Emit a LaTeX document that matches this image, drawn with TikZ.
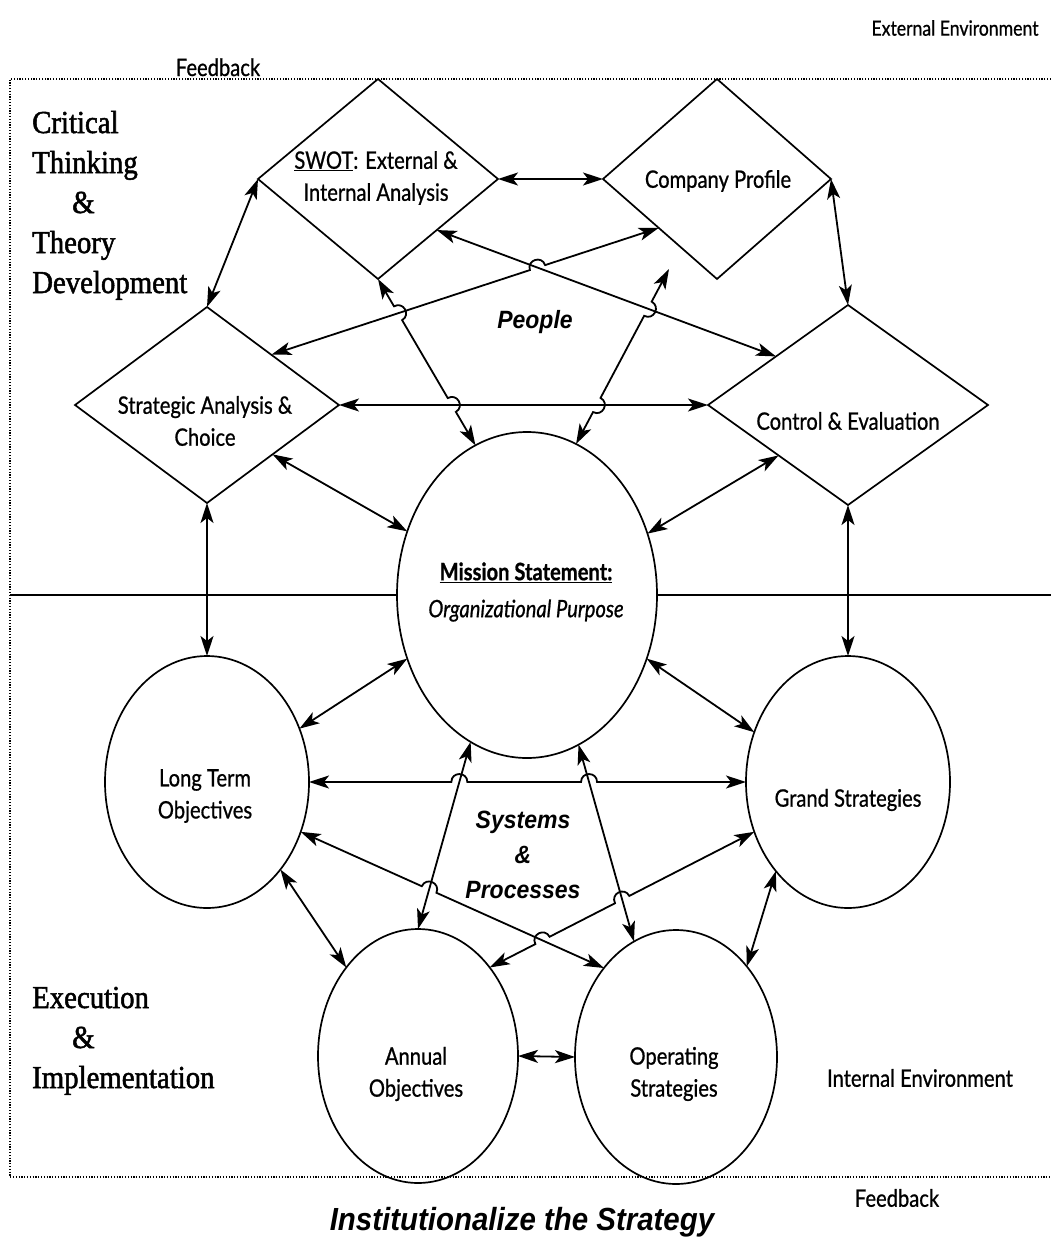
\documentclass[tikz,border=0pt]{standalone}
\usepackage{fontspec}
\setmainfont{Liberation Serif}
\newfontfamily\labelfont[FakeStretch=0.84,FakeBold=0.8]{Lato}
\newfontfamily\serifhead[FakeStretch=0.9,FakeBold=1.6]{Liberation Serif}
\newfontfamily\heavyfont[FakeStretch=0.92]{Liberation Sans}
\usetikzlibrary{shapes.geometric,arrows.meta,calc,intersections}

\newcommand{\hr}{8pt}

\begin{document}
\begin{tikzpicture}[x=1pt,y=-1pt,
  shapeline/.style={draw, line width=1.7pt, inner sep=0pt, outer sep=0pt},
  dia/.style={shapeline, diamond},
  oval/.style={shapeline, ellipse},
  conn/.style={line width=1.8pt, {Stealth[length=20pt,width=13pt,inset=5pt]}-{Stealth[length=20pt,width=13pt,inset=5pt]}},
  hopup/.style={bend left=90, looseness=1.7},
  hopdown/.style={bend right=90, looseness=1.7},
  lbl/.style={font=\labelfont\fontsize{24}{32}\selectfont, align=center, inner sep=0pt},
  side/.style={font=\serifhead\fontsize{32}{40}\selectfont, anchor=base west, inner sep=0pt},
  heavy/.style={font=\heavyfont\bfseries\itshape\fontsize{25}{35}\selectfont, align=center, inner sep=0pt},
  frameline/.style={line width=1.2pt, dash pattern=on 1.2pt off 1.6pt},
]
\useasboundingbox (0,0) rectangle (1051,1242);

% ---------- frame and divider ----------
\coordinate (ftl) at (10,79);
\coordinate (ftr) at (1051,79);
\coordinate (fbl) at (10,1177);
\coordinate (fbr) at (1051,1177);
\draw[frameline] (ftr) -- (ftl) -- (fbl) -- (fbr);

% ---------- shapes ----------
\node[dia, minimum width=240pt, minimum height=200pt] (swot) at (378,179) {};
\node[dia, minimum width=228pt, minimum height=200pt] (cp) at (717,179) {};
\node[dia, minimum width=264pt, minimum height=196pt] (sac) at (207,405) {};
\node[dia, minimum width=280pt, minimum height=200pt] (ce) at (848,405) {};
\node[oval, minimum width=260pt, minimum height=326pt] (mission) at (527,595) {};
\node[oval, minimum width=204pt, minimum height=252pt] (lto) at (207,782) {};
\node[oval, minimum width=204pt, minimum height=252pt] (gs) at (848,782) {};
\node[oval, minimum width=200pt, minimum height=254pt] (ao) at (418,1056) {};
\node[oval, minimum width=202pt, minimum height=254pt] (os) at (676,1057) {};

\coordinate (divL) at (10,595);
\coordinate (divR) at (1051,595);
\draw[line width=2.6pt] (divL) -- (mission.west);
\draw[line width=2.6pt] (mission.east) -- (divR);

% free end of the arrow pointing at the company profile
\coordinate (cpfree) at (669,269);

% ---------- crossing bookkeeping ----------
\path[name path=L4] (sac.east) -- (ce.west);
\path[name path=L5] (swot.-41) -- (ce.146);
\path[name path=L6] (sac.38) -- (cp.220);
\path[name path=L7] (swot.south) -- (mission.109);
\path[name path=L8] (mission.72) -- (cpfree);
\path[name path=L15] (lto.east) -- (gs.west);
\path[name path=L16] (mission.249) -- (ao.north);
\path[name path=L17] (mission.-71) -- (os.110);
\path[name path=L18] (lto.-28) -- (os.129);
\path[name path=L19] (gs.208) -- (ao.51);
\path[name intersections={of=L6 and L5, by=h65}];
\path[name intersections={of=L7 and L6, by=h76}];
\path[name intersections={of=L7 and L4, by=h74}];
\path[name intersections={of=L8 and L4, by=h84}];
\path[name intersections={of=L8 and L5, by=h85}];
\path[name intersections={of=L15 and L16, by=h1516}];
\path[name intersections={of=L15 and L17, by=h1517}];
\path[name intersections={of=L18 and L16, by=h1816}];
\path[name intersections={of=L19 and L17, by=h1917}];
\path[name intersections={of=L19 and L18, by=h1918}];

% ---------- upper connectors ----------
\draw[conn] (swot.east) -- (cp.west);
\draw[conn] (swot.west) -- (sac.north);
\draw[conn] (cp.east) -- (ce.north);
\draw[conn] (sac.east) -- (ce.west);
\draw[conn] (swot.-41) -- (ce.146);
\draw[conn] (sac.38) -- ($(h65)!\hr!(sac.38)$) to[hopup] ($(h65)!\hr!(cp.220)$) -- (cp.220);
\draw[conn] (swot.south) -- ($(h76)!\hr!(swot.south)$) to[hopup] ($(h76)!\hr!(mission.109)$)
  -- ($(h74)!\hr!(swot.south)$) to[hopup] ($(h74)!\hr!(mission.109)$) -- (mission.109);
\draw[conn] (mission.72) -- ($(h84)!\hr!(mission.72)$) to[hopdown] ($(h84)!\hr!(cpfree)$)
  -- ($(h85)!\hr!(mission.72)$) to[hopdown] ($(h85)!\hr!(cpfree)$) -- (cpfree);
\draw[conn] (sac.-37) -- (mission.152);
\draw[conn] (ce.216) -- (mission.27);
\draw[conn] (sac.south) -- (lto.north);
\draw[conn] (ce.south) -- (gs.north);

% ---------- lower connectors ----------
\draw[conn] (mission.208) -- (lto.30);
\draw[conn] (mission.-28) -- (gs.152);
\draw[conn] (lto.east) -- ($(h1516)!\hr!(lto.east)$) to[hopup] ($(h1516)!\hr!(gs.west)$)
  -- ($(h1517)!\hr!(lto.east)$) to[hopup] ($(h1517)!\hr!(gs.west)$) -- (gs.west);
\draw[conn] (mission.249) -- (ao.north);
\draw[conn] (mission.-71) -- (os.110);
\draw[conn] (lto.-28) -- ($(h1816)!\hr!(lto.-28)$) to[hopup] ($(h1816)!\hr!(os.129)$) -- (os.129);
\draw[conn] (gs.208) -- ($(h1917)!\hr!(gs.208)$) to[hopdown] ($(h1917)!\hr!(ao.51)$)
  -- ($(h1918)!\hr!(gs.208)$) to[hopdown] ($(h1918)!\hr!(ao.51)$) -- (ao.51);
\draw[conn] (lto.-50) -- (ao.129);
\draw[conn] (gs.231) -- (os.52);
\draw[conn] (ao.east) -- (os.west);

% ---------- labels in the shapes ----------
\node[lbl] (swotlbl) at (376,178) {\underline{SWOT}: External \&\\Internal Analysis};
\node[lbl] (cplbl) at (718,181) {Company Profile};
\node[lbl] (saclbl) at (205,421) {Strategic Analysis \&\\Choice};
\node[lbl] (celbl) at (848,421) {Control \& Evaluation};
\node[lbl, font=\labelfont\fontsize{24}{37}\selectfont] (mslbl) at (526,592)
  {\bfseries\underline{Mission Statement:}\\\itshape Organizational Purpose};
\node[lbl] (ltolbl) at (205,796) {Long Term\\Objectives};
\node[lbl] (gslbl) at (848,800) {Grand Strategies};
\node[lbl] (aolbl) at (416,1074) {Annual\\Objectives};
\node[lbl] (oslbl) at (674,1074) {Operating\\Strategies};

% ---------- free texts ----------
\node[heavy] (people) at (535,322) {People};
\node[heavy] (sysproc) at (523,855) {Systems\\\&\\Processes};
\node[heavy, font=\heavyfont\bfseries\itshape\fontsize{32}{34}\selectfont] (inst) at (522,1222) {Institutionalize the Strategy};

\node[lbl, font=\labelfont\fontsize{21}{26}\selectfont] (extenv) at (955,28) {External Environment};
\node[lbl] (intenv) at (920,1078) {Internal Environment};
\node[lbl, anchor=base] (fbtop) at (218,76) {Feedback};
\node[lbl] (fbbot) at (897,1198) {Feedback};

\node[side] (crit) at (32,133) {Critical};
\node[side] (think) at (32,173) {Thinking};
\node[side] (amp1) at (72,213) {\&};
\node[side] (theory) at (32,253) {Theory};
\node[side] (devel) at (32,293) {Development};

\node[side] (exec) at (32,1008) {Execution};
\node[side] (amp2) at (72,1048) {\&};
\node[side] (impl) at (32,1088) {Implementation};
\end{tikzpicture}
\end{document}
